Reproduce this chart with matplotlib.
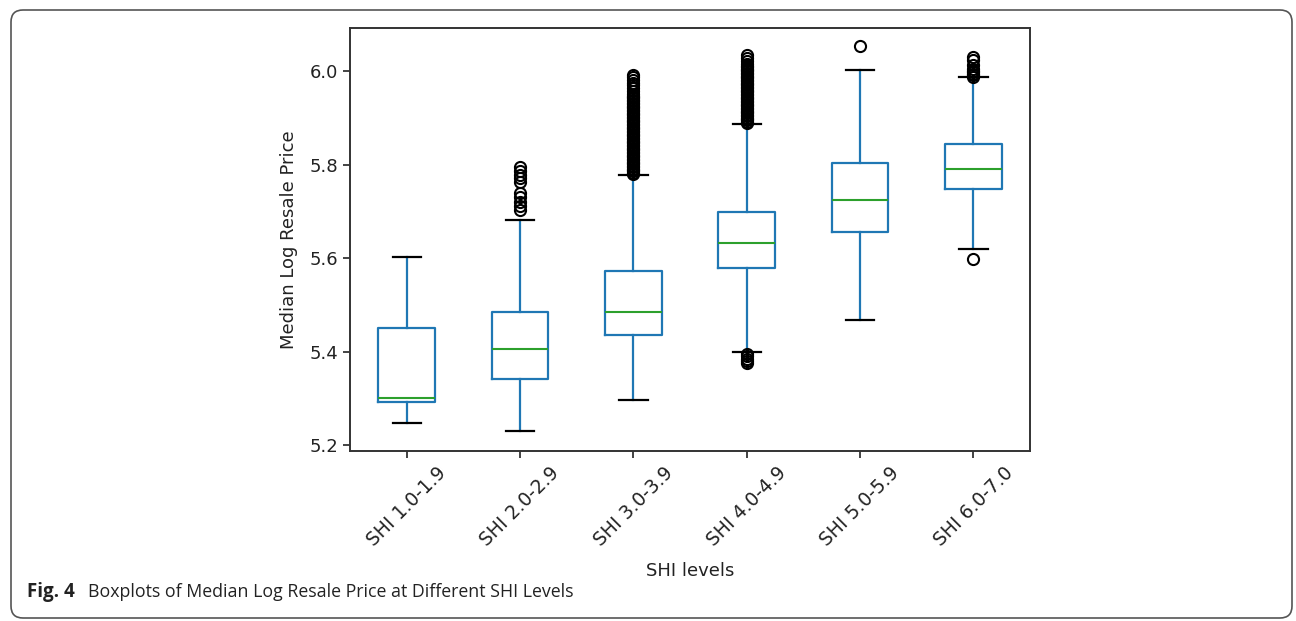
import matplotlib
matplotlib.use("Agg")
import matplotlib.pyplot as plt
from matplotlib.patches import FancyBboxPatch
from matplotlib.transforms import IdentityTransform

# --- data ---
LABELS = ["SHI 1.0-1.9", "SHI 2.0-2.9", "SHI 3.0-3.9", "SHI 4.0-4.9", "SHI 5.0-5.9", "SHI 6.0-7.0"]
WHISLO = [5.246, 5.229, 5.296, 5.398, 5.468, 5.619]
Q1 = [5.291, 5.342, 5.435, 5.578, 5.657, 5.749]
MED = [5.300, 5.405, 5.485, 5.632, 5.724, 5.791]
Q3 = [5.451, 5.485, 5.573, 5.698, 5.803, 5.845]
WHISHI = [5.602, 5.682, 5.778, 5.887, 6.004, 5.987]

FLIERS_1 = []
FLIERS_2 = [5.703, 5.712, 5.721, 5.730, 5.739, 5.764, 5.771, 5.778, 5.787, 5.796]
FLIERS_3 = [5.780, 5.783, 5.786, 5.789, 5.792, 5.795, 5.798, 5.801, 5.804, 5.807,
            5.810, 5.813, 5.816, 5.819, 5.822, 5.825, 5.828, 5.831, 5.834, 5.837,
            5.840, 5.843, 5.846, 5.849, 5.852, 5.855, 5.858, 5.861, 5.864, 5.867,
            5.870, 5.873, 5.876, 5.879, 5.882, 5.885, 5.888, 5.891, 5.894, 5.897,
            5.900, 5.903, 5.906, 5.909, 5.912, 5.915, 5.918, 5.921, 5.924, 5.927,
            5.930, 5.933, 5.936, 5.939, 5.942, 5.945, 5.948, 5.952, 5.958, 5.964,
            5.970, 5.976, 5.982, 5.988, 5.992]
FLIERS_4 = [5.375, 5.380, 5.385, 5.390, 5.395,
            5.889, 5.892, 5.895, 5.898, 5.901, 5.904, 5.907, 5.910, 5.913, 5.916,
            5.919, 5.922, 5.925, 5.928, 5.931, 5.934, 5.937, 5.940, 5.943, 5.946,
            5.949, 5.952, 5.955, 5.958, 5.961, 5.964, 5.967, 5.970, 5.973, 5.976,
            5.979, 5.982, 5.985, 5.988, 5.991, 5.994, 5.997, 6.000, 6.003, 6.006,
            6.009, 6.012, 6.016, 6.022, 6.029, 6.035]
FLIERS_5 = [6.055]
FLIERS_6 = [5.598, 5.989, 5.992, 5.995, 5.998, 6.001, 6.006, 6.014, 6.024, 6.031]
FLIERS = [FLIERS_1, FLIERS_2, FLIERS_3, FLIERS_4, FLIERS_5, FLIERS_6]

W, H, DPI = 1296, 621, 100
plt.rcParams["font.family"] = ["DejaVu Sans"]
fig = plt.figure(figsize=(W / DPI, H / DPI), dpi=DPI)
ax = fig.add_axes([350 / W, 1 - 451 / H, 680 / W, 423 / H])

stats = []
for i in range(len(LABELS)):
    stats.append({
        "label": LABELS[i], "whislo": WHISLO[i], "q1": Q1[i], "med": MED[i],
        "q3": Q3[i], "whishi": WHISHI[i], "fliers": FLIERS[i],
    })

blue = "#1f77b4"
ax.bxp(stats, widths=0.5, showfliers=True,
       boxprops=dict(color=blue, linewidth=1.6),
       whiskerprops=dict(color=blue, linewidth=1.6),
       capprops=dict(color="black", linewidth=1.6),
       medianprops=dict(color="#2ca02c", linewidth=1.5),
       flierprops=dict(marker="o", markerfacecolor="none", markeredgecolor="black",
                       markersize=8, markeredgewidth=1.5))

ax.set_xlim(0.5, 6.5)
ax.set_ylim(5.187, 6.093)
ax.set_yticks([5.2, 5.4, 5.6, 5.8, 6.0])
ax.set_yticklabels(["5.2", "5.4", "5.6", "5.8", "6.0"])
ax.set_xticklabels(LABELS, rotation=45)
ax.tick_params(labelsize=13, length=5, width=1.2, colors="#222222")
ax.tick_params(axis="x", labelsize=13.5)
for s in ax.spines.values():
    s.set_linewidth(1.4)
    s.set_color("#333333")
ax.set_ylabel("Median Log Resale Price", fontsize=13, color="#222222", labelpad=8)
ax.set_xlabel("SHI levels", fontsize=13, color="#222222", labelpad=9)

# rounded frame around the whole figure
frame = FancyBboxPatch((11, 3), 1281, 608, boxstyle="round,pad=0,rounding_size=12",
                       transform=IdentityTransform(), facecolor="none",
                       edgecolor="#555555", linewidth=1.2)
fig.patches.append(frame)

fig.text(27 / W, 1 - 597 / H, "Fig. 4", fontsize=13.5, fontweight="bold",
         family="Open Sans", va="baseline", color="#222222")
fig.text(88 / W, 1 - 597 / H, "Boxplots of Median Log Resale Price at Different SHI Levels",
         fontsize=12.8, family="Open Sans", va="baseline", color="#222222")

fig.savefig("out.png", dpi=DPI)
